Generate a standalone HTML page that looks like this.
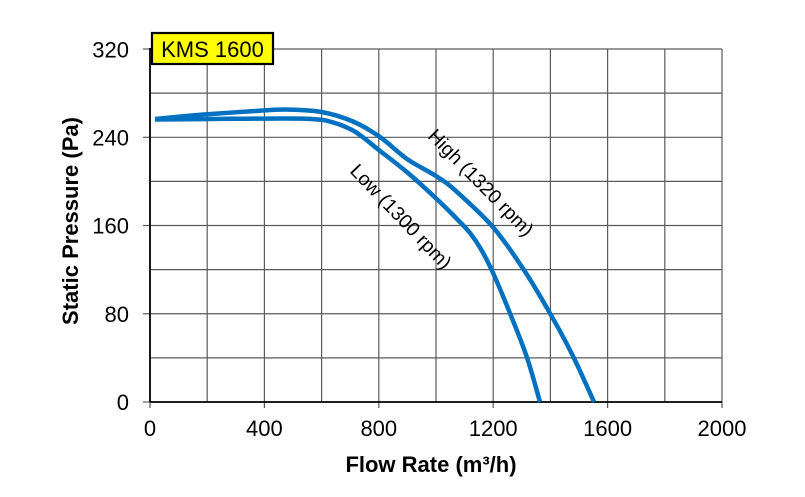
<!DOCTYPE html>
<html><head><meta charset="utf-8"><style>
html,body{margin:0;padding:0;background:#fff;}
svg{display:block;}
text{font-family:"Liberation Sans",Arial,sans-serif;fill:#000;}
</style></head><body>
<svg width="805" height="497" viewBox="0 0 805 497" xmlns="http://www.w3.org/2000/svg">
<rect width="805" height="497" fill="#fff"/>
<g stroke="#5a5a5a" stroke-width="1.2" fill="none">
<line x1="207.2" y1="49" x2="207.2" y2="402"/>
<line x1="264.4" y1="49" x2="264.4" y2="402"/>
<line x1="321.6" y1="49" x2="321.6" y2="402"/>
<line x1="378.8" y1="49" x2="378.8" y2="402"/>
<line x1="436" y1="49" x2="436" y2="402"/>
<line x1="493.2" y1="49" x2="493.2" y2="402"/>
<line x1="550.4" y1="49" x2="550.4" y2="402"/>
<line x1="607.6" y1="49" x2="607.6" y2="402"/>
<line x1="664.8" y1="49" x2="664.8" y2="402"/>
<line x1="722" y1="49" x2="722" y2="408"/>
<line x1="150" y1="49" x2="722" y2="49"/>
<line x1="150" y1="93.1" x2="722" y2="93.1"/>
<line x1="150" y1="137.3" x2="722" y2="137.3"/>
<line x1="150" y1="181.4" x2="722" y2="181.4"/>
<line x1="150" y1="225.5" x2="722" y2="225.5"/>
<line x1="150" y1="269.6" x2="722" y2="269.6"/>
<line x1="150" y1="313.75" x2="722" y2="313.75"/>
<line x1="150" y1="357.9" x2="722" y2="357.9"/>
<line x1="143" y1="49" x2="150" y2="49"/>
<line x1="143" y1="137.3" x2="150" y2="137.3"/>
<line x1="143" y1="225.5" x2="150" y2="225.5"/>
<line x1="143" y1="313.75" x2="150" y2="313.75"/>
<line x1="143" y1="402" x2="150" y2="402"/>
<line x1="150" y1="402" x2="150" y2="408"/>
<line x1="264.4" y1="402" x2="264.4" y2="408"/>
<line x1="378.8" y1="402" x2="378.8" y2="408"/>
<line x1="493.2" y1="402" x2="493.2" y2="408"/>
<line x1="607.6" y1="402" x2="607.6" y2="408"/>
</g>
<g stroke="#000" stroke-width="1.8">
<line x1="150" y1="48" x2="150" y2="402"/>
<line x1="150" y1="402" x2="722" y2="402"/>
</g>
<g fill="none" stroke="#0070C0" stroke-width="4.5" stroke-linejoin="round" stroke-linecap="butt">
<path d="M155,119 C163.8,118.2 189.4,115.7 207.7,114.3 C226,112.9 250.9,111.2 264.6,110.4 C278.3,109.6 280.5,109.3 290,109.6 C299.5,109.9 311.1,110 321.6,112 C332.1,114 343.3,117.3 353,121.5 C362.7,125.7 371.1,130.8 380,137 C389,143.2 397.3,152.2 406.7,158.8 C416.2,165.4 428.4,171 436.7,176.5 C445,182 447.3,183.2 456.7,191.7 C466.1,200.2 482.2,214.6 493.3,227.5 C504.4,240.4 513.9,254.7 523.3,269 C532.8,283.3 541.7,298.7 550,313.3 C558.3,327.9 566,341.9 573.3,356.7 C580.6,371.5 590.6,394.5 594,402"/>
<path d="M155,119.5 C167.5,119.4 205.8,119 230,118.8 C254.2,118.65 284.2,118.35 300,118.6 C315.8,118.85 316.2,119.3 325,120.3 C333.8,122.3 344,125.55 353,130.5 C362,135.45 369.6,142.9 378.8,150 C388,157.1 398.35,164.8 408,173 C417.65,181.2 428.9,191.7 436.7,199 C444.5,206.3 449.45,211.3 455,217 C460.55,222.7 465.5,227.3 470,233 C474.5,238.7 478.1,244.25 482,251 C485.9,257.75 488.6,263.1 493.3,273.5 C498,283.9 504.4,299.4 510,313.3 C515.6,327.2 521.7,341.9 526.7,356.7 C531.7,371.5 537.8,394.4 540,402"/>
</g>
<g font-size="22" text-anchor="end">
<text x="129" y="57.5">320</text>
<text x="129" y="145.5">240</text>
<text x="129" y="233.5">160</text>
<text x="129" y="322">80</text>
<text x="129" y="410">0</text>
</g>
<g font-size="22" text-anchor="middle">
<text x="150" y="436">0</text>
<text x="264.4" y="436">400</text>
<text x="378.8" y="436">800</text>
<text x="493.2" y="436">1200</text>
<text x="607.6" y="436">1600</text>
<text x="722" y="436">2000</text>
</g>
<text x="431" y="472" font-size="22" font-weight="bold" text-anchor="middle">Flow Rate (m³/h)</text>
<text transform="translate(78,221) rotate(-90)" font-size="22" font-weight="bold" text-anchor="middle">Static Pressure (Pa)</text>
<text transform="translate(480.5,183) rotate(45.5)" font-size="19.5" text-anchor="middle" dominant-baseline="central">High (1320 rpm)</text>
<text transform="translate(400.5,217) rotate(46.3)" font-size="19.5" text-anchor="middle" dominant-baseline="central">Low (1300 rpm)</text>
<rect x="152" y="33" width="121" height="31" fill="#ffff00" stroke="#000" stroke-width="2.2"/>
<text x="212.5" y="57" font-size="22" text-anchor="middle">KMS 1600</text>
</svg>
</body></html>
